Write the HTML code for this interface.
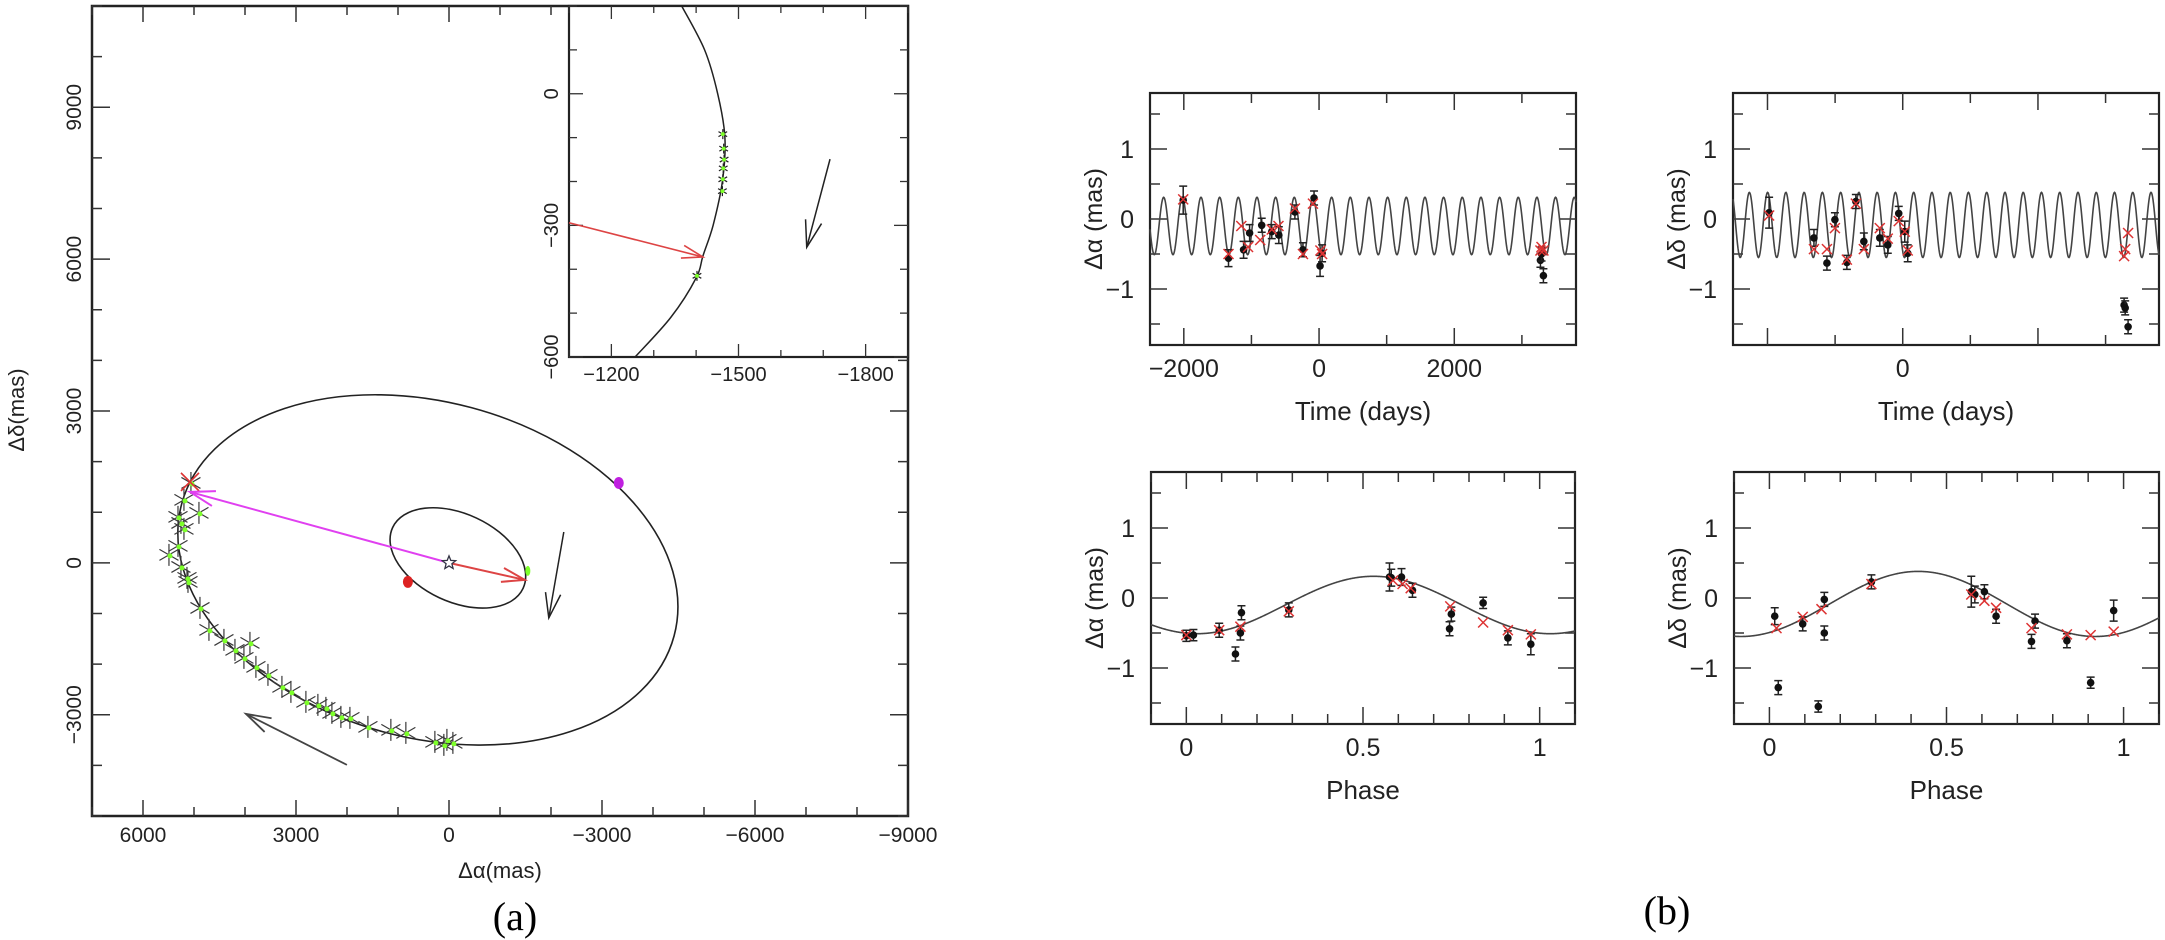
<!DOCTYPE html>
<html><head><meta charset="utf-8">
<style>
html,body{margin:0;padding:0;background:#fff;}
svg{display:block;font-family:"Liberation Sans",sans-serif;}
</style></head>
<body>
<svg id="fig" width="2165" height="940" viewBox="0 0 2165 940" xmlns="http://www.w3.org/2000/svg">
<rect width="2165" height="940" fill="#fff"/>
<g id="pa"></g>
<g id="pb"></g>
<text x="515" y="930" font-family="Liberation Serif,serif" font-size="40" text-anchor="middle">(a)</text>
<text x="1667" y="924" font-family="Liberation Serif,serif" font-size="40" text-anchor="middle">(b)</text>
</svg>
<script>
// ---------- Panel (a) data (mas) ----------
// orbit ellipses: [centerA, centerD, semiAxisA, semiAxisD, rotationDeg]
const outerOrbit = [414, -139, 4998, 3318, 15];
const innerOrbit = [-174, 98, 1411, 869, 25];
const obsA = [5060,5197,4903,5314,5256,5197,5314,5491,5256,5138,5118,4883,4707,4413,4197,3903,4021,3786,3550,3276,3100,2806,2571,2414,2296,2120,1943,1590,1140,846,277,41,-76,101];
const obsD = [1579,1244,987,908,789,671,335,158,-80,-297,-376,-890,-1324,-1522,-1719,-1581,-1877,-2055,-2213,-2450,-2548,-2746,-2805,-2865,-2963,-3042,-3062,-3240,-3299,-3358,-3536,-3497,-3556,-3595];
const xTicksA = [6000,3000,0,-3000,-6000,-9000];
const yTicksA = [-3000,0,3000,6000,9000];
// inset data (mas)
const insetCurveA = [-1366,-1420,-1451,-1468,-1462,-1440,-1416,-1400,-1340,-1256];
const insetCurveD = [200,100,0,-100,-200,-300,-370,-420,-510,-600];
const insetObsA = [-1463,-1465,-1466,-1464,-1463,-1462,-1402];
const insetObsD = [-92,-125,-150,-170,-195,-222,-415];
const insetXTicks = [-1200,-1500,-1800];
const insetYTicks = [0,-300,-600];

// ---------- Panel (b) data ----------
const tlT = [-2009,-1339,-1116,-1027,-848,-699,-595,-357,-238,-74,15,45,3274,3318,3290];
const tlV = [0.27,-0.56,-0.44,-0.2,-0.09,-0.18,-0.23,0.1,-0.44,0.3,-0.67,-0.49,-0.59,-0.81,-0.5];
const tlE = [0.2,0.12,0.12,0.12,0.1,0.1,0.12,0.1,0.1,0.1,0.15,0.12,0.1,0.1,0.1];
const tlXT = [-2009,-1339,-1150,-1050,-870,-699,-600,-357,-238,-90,20,45,3274,3290,3318];
const tlXV = [0.28,-0.5,-0.1,-0.4,-0.3,-0.15,-0.1,0.15,-0.5,0.22,-0.45,-0.5,-0.45,-0.4,-0.45];
const trT = [-1976,-1313,-1121,-1003,-826,-693,-575,-339,-221,-59,30,74,3274,3290,3333];
const trV = [0.09,-0.27,-0.63,-0.01,-0.62,0.25,-0.32,-0.27,-0.37,0.08,-0.18,-0.49,-1.23,-1.27,-1.54];
const trE = [0.22,0.12,0.1,0.1,0.1,0.1,0.12,0.12,0.12,0.1,0.15,0.12,0.1,0.1,0.1];
const trXT = [-1976,-1313,-1121,-1003,-826,-693,-575,-339,-221,-59,30,74,3274,3290,3333];
const trXV = [0.05,-0.43,-0.43,-0.13,-0.58,0.22,-0.43,-0.13,-0.28,-0.03,-0.18,-0.45,-0.53,-0.43,-0.2];
const blP = [0.0,0.02,0.093,0.139,0.153,0.156,0.29,0.575,0.58,0.609,0.64,0.745,0.75,0.84,0.91,0.975];
const blV = [-0.54,-0.53,-0.46,-0.8,-0.5,-0.21,-0.17,0.3,0.29,0.3,0.11,-0.44,-0.23,-0.07,-0.57,-0.66];
const blE = [0.08,0.08,0.1,0.1,0.1,0.1,0.1,0.2,0.12,0.12,0.1,0.1,0.1,0.08,0.1,0.15];
const blXP = [0.0,0.093,0.153,0.29,0.585,0.612,0.635,0.747,0.84,0.91,0.975];
const blXV = [-0.53,-0.46,-0.41,-0.19,0.25,0.2,0.14,-0.12,-0.35,-0.46,-0.52];
const brP = [0.015,0.025,0.094,0.138,0.155,0.155,0.288,0.57,0.58,0.607,0.64,0.74,0.75,0.84,0.907,0.972];
const brV = [-0.26,-1.28,-0.37,-1.55,-0.02,-0.5,0.23,0.09,0.05,0.09,-0.26,-0.62,-0.33,-0.61,-1.21,-0.18];
const brE = [0.12,0.1,0.1,0.08,0.1,0.1,0.1,0.22,0.12,0.1,0.1,0.1,0.1,0.1,0.08,0.15];
const brXP = [0.02,0.094,0.147,0.288,0.57,0.607,0.64,0.74,0.84,0.907,0.972];
const brXV = [-0.43,-0.27,-0.16,0.2,0.05,-0.04,-0.14,-0.43,-0.52,-0.53,-0.48];
// fitted sinusoid parameters: [offset, amplitude, period(days), epochOfPeak]
const fitAlpha = [-0.1, 0.41, 276, -2298];
const fitDelta = [-0.085, 0.465, 270, -1998];
const fitAlphaPhasePeak = [0.53];
const fitDeltaPhasePeak = [0.42];
const yTicksB = [-1,0,1];

const NS = "http://www.w3.org/2000/svg";
function mk(parent, tag, attrs, txt){
  const e = document.createElementNS(NS, tag);
  for (const k in attrs) e.setAttribute(k, attrs[k]);
  if (txt !== undefined) e.textContent = txt;
  parent.appendChild(e);
  return e;
}
function smoothPath(pts, closed){
  const n = pts.length; let d = "M"+pts[0][0].toFixed(1)+","+pts[0][1].toFixed(1);
  const get = i => closed ? pts[(i+n)%n] : pts[Math.max(0,Math.min(n-1,i))];
  const segs = closed ? n : n-1;
  for (let i=0;i<segs;i++){
    const p0=get(i-1),p1=get(i),p2=get(i+1),p3=get(i+2);
    const c1=[p1[0]+(p2[0]-p0[0])/6,p1[1]+(p2[1]-p0[1])/6];
    const c2=[p2[0]-(p3[0]-p1[0])/6,p2[1]-(p3[1]-p1[1])/6];
    d+=" C"+c1.map(v=>v.toFixed(1))+" "+c2.map(v=>v.toFixed(1))+" "+p2.map(v=>v.toFixed(1));
  }
  return d + (closed?"Z":"");
}
function arrow(g, x1,y1,x2,y2,color,w,head){
  mk(g,"line",{x1,y1,x2,y2,stroke:color,"stroke-width":w});
  const ang=Math.atan2(y2-y1,x2-x1), h=head||22, s=0.3;
  const p=(a)=>[x2-h*Math.cos(ang+a), y2-h*Math.sin(ang+a)];
  const a1=p(s), a2=p(-s);
  mk(g,"polyline",{points:`${a1[0]},${a1[1]} ${x2},${y2} ${a2[0]},${a2[1]}`,fill:"none",stroke:color,"stroke-width":w});
}
function asterisk(g,x,y,r,color,w){
  let d="";
  for(let k=0;k<3;k++){const a=Math.PI/2+k*Math.PI/3;d+=`M${x+r*Math.cos(a)},${y+r*Math.sin(a)}L${x-r*Math.cos(a)},${y-r*Math.sin(a)}`;}
  return mk(g,"path",{d,stroke:color,"stroke-width":w,fill:"none"});
}

// ================= PANEL A =================
const pa = document.getElementById("pa");
const L=92,T=6,R=908,B=816;
const X = a => L + (7000-a)/16000*(R-L);
const Y = d => T + (11000-d)/16000*(B-T);
function drawEllipse(p,name){
  const cx=X(p[0]), cy=Y(p[1]), rx=p[2]*(R-L)/16000, ry=p[3]*(B-T)/16000;
  const e=mk(pa,"ellipse",{cx,cy,rx,ry,transform:`rotate(${p[4]} ${cx} ${cy})`,fill:"none",stroke:"#222","stroke-width":1.6});
  
  
}
mk(pa,"rect",{x:L,y:T,width:R-L,height:B-T,fill:"none",stroke:"#222","stroke-width":2.5,});
for(let v=-9000; v<=7000; v+=1000){
  const x=X(v), len = (v%3000===0)?16:9;
  mk(pa,"line",{x1:x,y1:B,x2:x,y2:B-len,stroke:"#333","stroke-width":1.5});
  if(x<569) mk(pa,"line",{x1:x,y1:T,x2:x,y2:T+len,stroke:"#333","stroke-width":1.5});
}
for(let v=-5000; v<=11000; v+=1000){
  const y=Y(v), len=(v%3000===0)?18:10;
  mk(pa,"line",{x1:L,y1:y,x2:L+len,y2:y,stroke:"#333","stroke-width":1.5});
  if(y>357) mk(pa,"line",{x1:R,y1:y,x2:R-len,y2:y,stroke:"#333","stroke-width":1.5});
}
xTicksA.forEach(v=>{
  const t=mk(pa,"text",{x:X(v),y:842,"font-size":21,"text-anchor":"middle",fill:"#222"}, v<0?"\u2212"+(-v):String(v));
  
  
});
yTicksA.forEach(v=>{
  const y=Y(v);
  const t=mk(pa,"text",{x:0,y:0,"font-size":21,"text-anchor":"middle",fill:"#222",transform:`translate(81,${y}) rotate(-90)`}, v<0?"\u2212"+(-v):String(v));
  
  
});
mk(pa,"text",{x:500,y:878,"font-size":22,"text-anchor":"middle",fill:"#222",},"\u0394\u03b1(mas)");
mk(pa,"text",{x:0,y:0,"font-size":22,"text-anchor":"middle",fill:"#222",transform:"translate(24,410) rotate(-90)",},"\u0394\u03b4(mas)");
drawEllipse(outerOrbit,"outer-orbit");
drawEllipse(innerOrbit,"inner-orbit");
obsA.forEach((a,i)=>{
  const s=asterisk(pa,X(a),Y(obsD[i]),11,"#3a3a3a",1.2);
  
  
});
obsA.forEach((a,i)=>{
  const c=mk(pa,"circle",{cx:X(a)+1,cy:Y(obsD[i])+1,r:2.5,fill:"#7dff2a"});
  
  
});
mk(pa,"path",{d:`M${X(5079)-9},${Y(1600)-9}L${X(5079)+9},${Y(1600)+9}M${X(5079)+9},${Y(1600)-9}L${X(5079)-9},${Y(1600)+9}`,stroke:"#d33",'stroke-width':1.6,});
const gA = mk(pa,"g",{});
arrow(gA,X(0),Y(0),X(5079),Y(1401),"#e040f0",2,26);
arrow(gA,X(0),Y(0),X(-1487),Y(-337),"#d44",2,24);
arrow(gA,X(-2251),Y(611),X(-1957),Y(-1087),"#222",1.5,26);
arrow(gA,X(2002),Y(-3990),X(3982),Y(-2983),"#444",1.8,26);
(function(){const cx=X(0),cy=Y(0),r1=7,r2=3;let p=[];for(let k=0;k<10;k++){const a=-Math.PI/2+k*Math.PI/5,r=k%2?r2:r1;p.push((cx+r*Math.cos(a)).toFixed(1)+","+(cy+r*Math.sin(a)).toFixed(1));}
mk(pa,"polygon",{points:p.join(" "),fill:"#fff",stroke:"#334","stroke-width":1.3,});})();
mk(pa,"ellipse",{cx:X(-3329),cy:Y(1579),rx:5,ry:6,fill:"#c020e0",});
mk(pa,"ellipse",{cx:X(806),cy:Y(-376),rx:5,ry:6,fill:"#d22",});
mk(pa,"ellipse",{cx:X(-1546),cy:Y(-158),rx:2.5,ry:5,fill:"#7dff2a",});

// inset
const IL=569,IT=6,IR=908,IB=357;
const IX=a=>IL+(-1100-a)/800*(IR-IL);
const IY=d=>IT+(200-d)/800*(IB-IT);
const gi=mk(pa,"g",{});
mk(gi,"rect",{x:IL,y:IT,width:IR-IL,height:IB-IT,fill:"#fff",stroke:"#222","stroke-width":2.2,});
for(let v=-1900; v<=-1100; v+=100){const x=IX(v),len=(v%300===0)?13:7;
  mk(gi,"line",{x1:x,y1:IB,x2:x,y2:IB-len,stroke:"#333","stroke-width":1.3});
  mk(gi,"line",{x1:x,y1:IT,x2:x,y2:IT+len,stroke:"#333","stroke-width":1.3});}
for(let v=-600; v<=200; v+=100){const y=IY(v),len=(v%300===0)?14:8;
  mk(gi,"line",{x1:IL,y1:y,x2:IL+len,y2:y,stroke:"#333","stroke-width":1.3});
  mk(gi,"line",{x1:IR,y1:y,x2:IR-len,y2:y,stroke:"#333","stroke-width":1.3});}
insetXTicks.forEach(v=>{const t=mk(gi,"text",{x:IX(v),y:IB+24,"font-size":20,"text-anchor":"middle",fill:"#222"},"\u2212"+(-v));
  
  });
insetYTicks.forEach(v=>{const t=mk(gi,"text",{x:0,y:0,"font-size":20,"text-anchor":"middle",fill:"#222",transform:`translate(558,${IY(v)}) rotate(-90)`},v<0?"\u2212"+(-v):"0");
  
  });
mk(gi,"path",{d:smoothPath(insetCurveA.map((a,i)=>[IX(a),IY(insetCurveD[i])]),false),fill:"none",stroke:"#222","stroke-width":1.5,});
insetObsA.forEach((a,i)=>{const s=asterisk(gi,IX(a),IY(insetObsD[i]),5,"#222",1.2);
  
  
  const c=mk(gi,"circle",{cx:IX(a),cy:IY(insetObsD[i]),r:2,fill:"#7dff2a"});
  
  });
arrow(gi,IL,IY(-294),IX(-1416),IY(-372),"#d44",1.6,22);
arrow(gi,IX(-1716),IY(-149),IX(-1661),IY(-350),"#222",1.5,28);

// ================= PANEL B =================
const pb=document.getElementById("pb");
function panel(name,box,xr,majorStep,minorStep,xLabels,xTitle,yTitle,pT,pV,pE,xT,xV,curveFn){
  const [l,t,r,b]=box;
  const g=mk(pb,"g",{});
  
  
  const sx=v=>l+(v-xr[0])/(xr[1]-xr[0])*(r-l);
  const sy=v=>t+(1.8-v)/3.6*(b-t);
  mk(g,"rect",{x:l,y:t,width:r-l,height:b-t,fill:"none",stroke:"#222","stroke-width":2.2});
  const start=Math.ceil(xr[0]/minorStep-1e-9)*minorStep;
  for(let v=start; v<=xr[1]+1e-9; v+=minorStep){
    const isMaj=Math.abs(v/majorStep-Math.round(v/majorStep))<1e-6, len=isMaj?17:10, x=sx(v);
    mk(g,"line",{x1:x,y1:b,x2:x,y2:b-len,stroke:"#333","stroke-width":1.5});
    mk(g,"line",{x1:x,y1:t,x2:x,y2:t+len,stroke:"#333","stroke-width":1.5});
  }
  for(let v=-1.5; v<=1.5; v+=0.5){const y=sy(v),len=(Math.abs(v%1)<1e-6)?17:10;
    mk(g,"line",{x1:l,y1:y,x2:l+len,y2:y,stroke:"#333","stroke-width":1.5});
    mk(g,"line",{x1:r,y1:y,x2:r-len,y2:y,stroke:"#333","stroke-width":1.5});}
  yTicksB.forEach(v=>{const tx=mk(g,"text",{x:l-16,y:sy(v)+9,"font-size":25,"text-anchor":"end",fill:"#222"},v<0?"\u2212"+(-v):String(v));
    
    });
  xLabels.forEach(v=>{const s=v<0?"\u2212"+(-v):String(v);const tx=mk(g,"text",{x:sx(v),y:b+32,"font-size":25,"text-anchor":"middle",fill:"#222"},s);
    
    });
  mk(g,"text",{x:(l+r)/2,y:b+75,"font-size":26,"text-anchor":"middle",fill:"#222",},xTitle);
  mk(g,"text",{x:0,y:0,"font-size":25,"text-anchor":"middle",fill:"#222",transform:`translate(${l-48},${(t+b)/2}) rotate(-90)`,},yTitle);
  let d="";
  for(let x=l;x<=r;x+=0.5){const v=xr[0]+(x-l)/(r-l)*(xr[1]-xr[0]);d+=(d?"L":"M")+x.toFixed(1)+","+sy(curveFn(v)).toFixed(2);}
  mk(g,"path",{d,fill:"none",stroke:"#444","stroke-width":1.6,});
  pT.forEach((v,i)=>{const x=sx(v),y=sy(pV[i]),e=pE[i]*(b-t)/3.6;
    const eb=mk(g,"path",{d:`M${x},${y-e}L${x},${y+e}M${x-4},${y-e}L${x+4},${y-e}M${x-4},${y+e}L${x+4},${y+e}`,stroke:"#222","stroke-width":1.5,fill:"none"});
    
    
    const c=mk(g,"circle",{cx:x,cy:y,r:3.8,fill:"#111"});
    
    });
  xT.forEach((v,i)=>{const x=sx(v),y=sy(xV[i]),s=5;
    const m=mk(g,"path",{d:`M${x-s},${y-s}L${x+s},${y+s}M${x+s},${y-s}L${x-s},${y+s}`,stroke:"#d33","stroke-width":1.5});
    
    });
}
const sinT=(p)=>t=>p[0]+p[1]*Math.cos(2*Math.PI*(t-p[3])/p[2]);
const sinP=(p,pk)=>ph=>p[0]+p[1]*Math.cos(2*Math.PI*(ph-pk[0]));
panel("time-alpha-plot",[1150,93,1576,345],[-2500,3800],2000,1000,[-2000,0,2000],"Time (days)","\u0394\u03b1  (mas)",tlT,tlV,tlE,tlXT,tlXV,sinT(fitAlpha));
panel("time-delta-plot",[1733,93,2159,345],[-2510,3790],2000,1000,[0],"Time (days)","\u0394\u03b4  (mas)",trT,trV,trE,trXT,trXV,sinT(fitDelta));
panel("phase-alpha-plot",[1151,472,1575,724],[-0.1,1.1],0.5,0.1,[0,0.5,1],"Phase","\u0394\u03b1  (mas)",blP,blV,blE,blXP,blXV,sinP(fitAlpha,fitAlphaPhasePeak));
panel("phase-delta-plot",[1734,472,2159,724],[-0.1,1.1],0.5,0.1,[0,0.5,1],"Phase","\u0394\u03b4  (mas)",brP,brV,brE,brXP,brXV,sinP(fitDelta,fitDeltaPhasePeak));
</script>
</body></html>
